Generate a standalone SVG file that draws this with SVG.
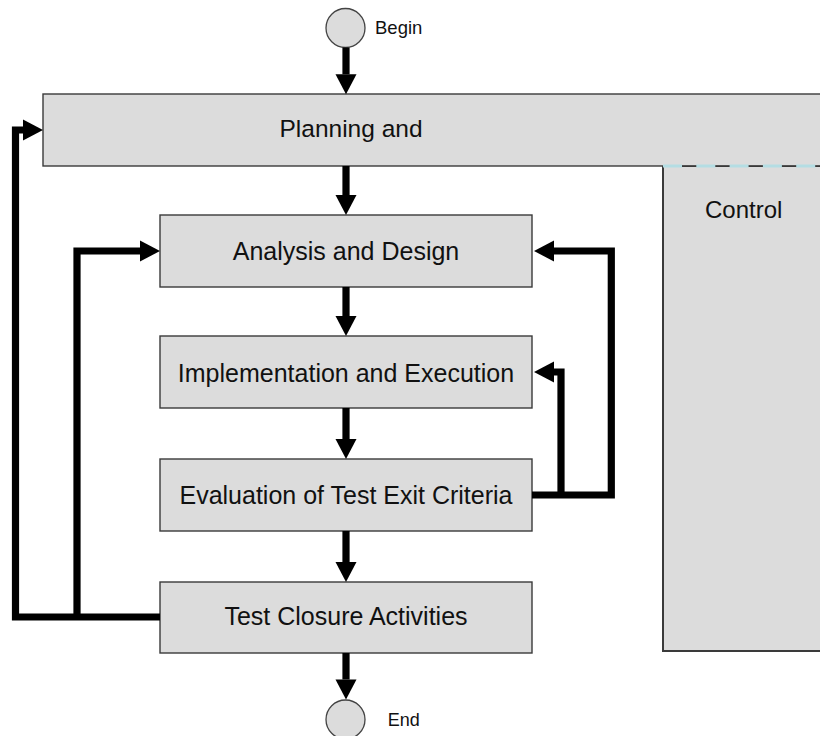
<svg xmlns="http://www.w3.org/2000/svg" width="820" height="736" viewBox="0 0 820 736">
<style>
.box{fill:#dcdcdc;stroke:#3a3a3a;stroke-width:1.4}
.lbl{font-family:"Liberation Sans",Arial,sans-serif;font-size:25px;fill:#111;text-anchor:middle}
.small{font-family:"Liberation Sans",Arial,sans-serif;font-size:18.5px;fill:#111}
.term{fill:#dcdcdc;stroke:#444;stroke-width:1.3}
.conn{fill:none;stroke:#000;stroke-width:7.2;stroke-linejoin:miter;stroke-linecap:butt}
</style>
<defs>
<marker id="ah" markerUnits="userSpaceOnUse" markerWidth="21" markerHeight="22" refX="0" refY="10.5" orient="auto" overflow="visible">
<path d="M0,0 L20,10.5 L0,21 z" fill="#000"/>
</marker>
</defs>
<rect width="820" height="736" fill="#fff"/>
<g id="control">
<rect class="box" x="663" y="166" width="200" height="485" style="stroke-width:2"/>
<text class="lbl" x="705" y="218.3" style="text-anchor:start;font-size:24px">Control</text>
</g>
<g id="planning">
<rect class="box" x="43" y="94" width="800" height="72"/>
<line x1="663" y1="166" x2="820" y2="166" stroke="#3a3a3a" stroke-width="1.2"/>
<line x1="663" y1="166" x2="820" y2="166" stroke="#b4dde3" stroke-width="3" stroke-dasharray="19 14.3"/>
<text class="lbl" x="351" y="136.7" style="font-size:24.5px">Planning and</text>
</g>
<g id="begin">
<circle class="term" cx="345.5" cy="28" r="19.5"/>
<text class="small" x="375" y="34.3">Begin</text>
</g>
<g id="analysis">
<rect class="box" x="160" y="215" width="372" height="72"/>
<text class="lbl" x="346" y="260">Analysis and Design</text>
</g>
<g id="implementation">
<rect class="box" x="160" y="336" width="372" height="72"/>
<text class="lbl" x="346" y="381.5">Implementation and Execution</text>
</g>
<g id="evaluation">
<rect class="box" x="160" y="459" width="372" height="72"/>
<text class="lbl" x="346" y="504.3">Evaluation of Test Exit Criteria</text>
</g>
<g id="closure">
<rect class="box" x="160" y="582" width="372" height="71"/>
<text class="lbl" x="346" y="625">Test Closure Activities</text>
</g>
<g id="end">
<circle class="term" cx="345.5" cy="719.5" r="19.5"/>
<text class="small" x="387.7" y="726" style="font-size:18px">End</text>
</g>
<g id="connectors">
<path class="conn" d="M346,47.5 V74.3" marker-end="url(#ah)"/>
<path class="conn" d="M346,166 V195" marker-end="url(#ah)"/>
<path class="conn" d="M346,287 V316" marker-end="url(#ah)"/>
<path class="conn" d="M346,408 V439" marker-end="url(#ah)"/>
<path class="conn" d="M346,531 V562" marker-end="url(#ah)"/>
<path class="conn" d="M346,653 V679.5" marker-end="url(#ah)"/>
<path class="conn" d="M160,617 H15.5 V130 H23" marker-end="url(#ah)"/>
<path class="conn" d="M77,617 V251 H140" marker-end="url(#ah)"/>
<path class="conn" d="M532,495 H611.3 V251 H554" marker-end="url(#ah)"/>
<path class="conn" d="M561,495 V372 H554" marker-end="url(#ah)"/>
</g>
</svg>
